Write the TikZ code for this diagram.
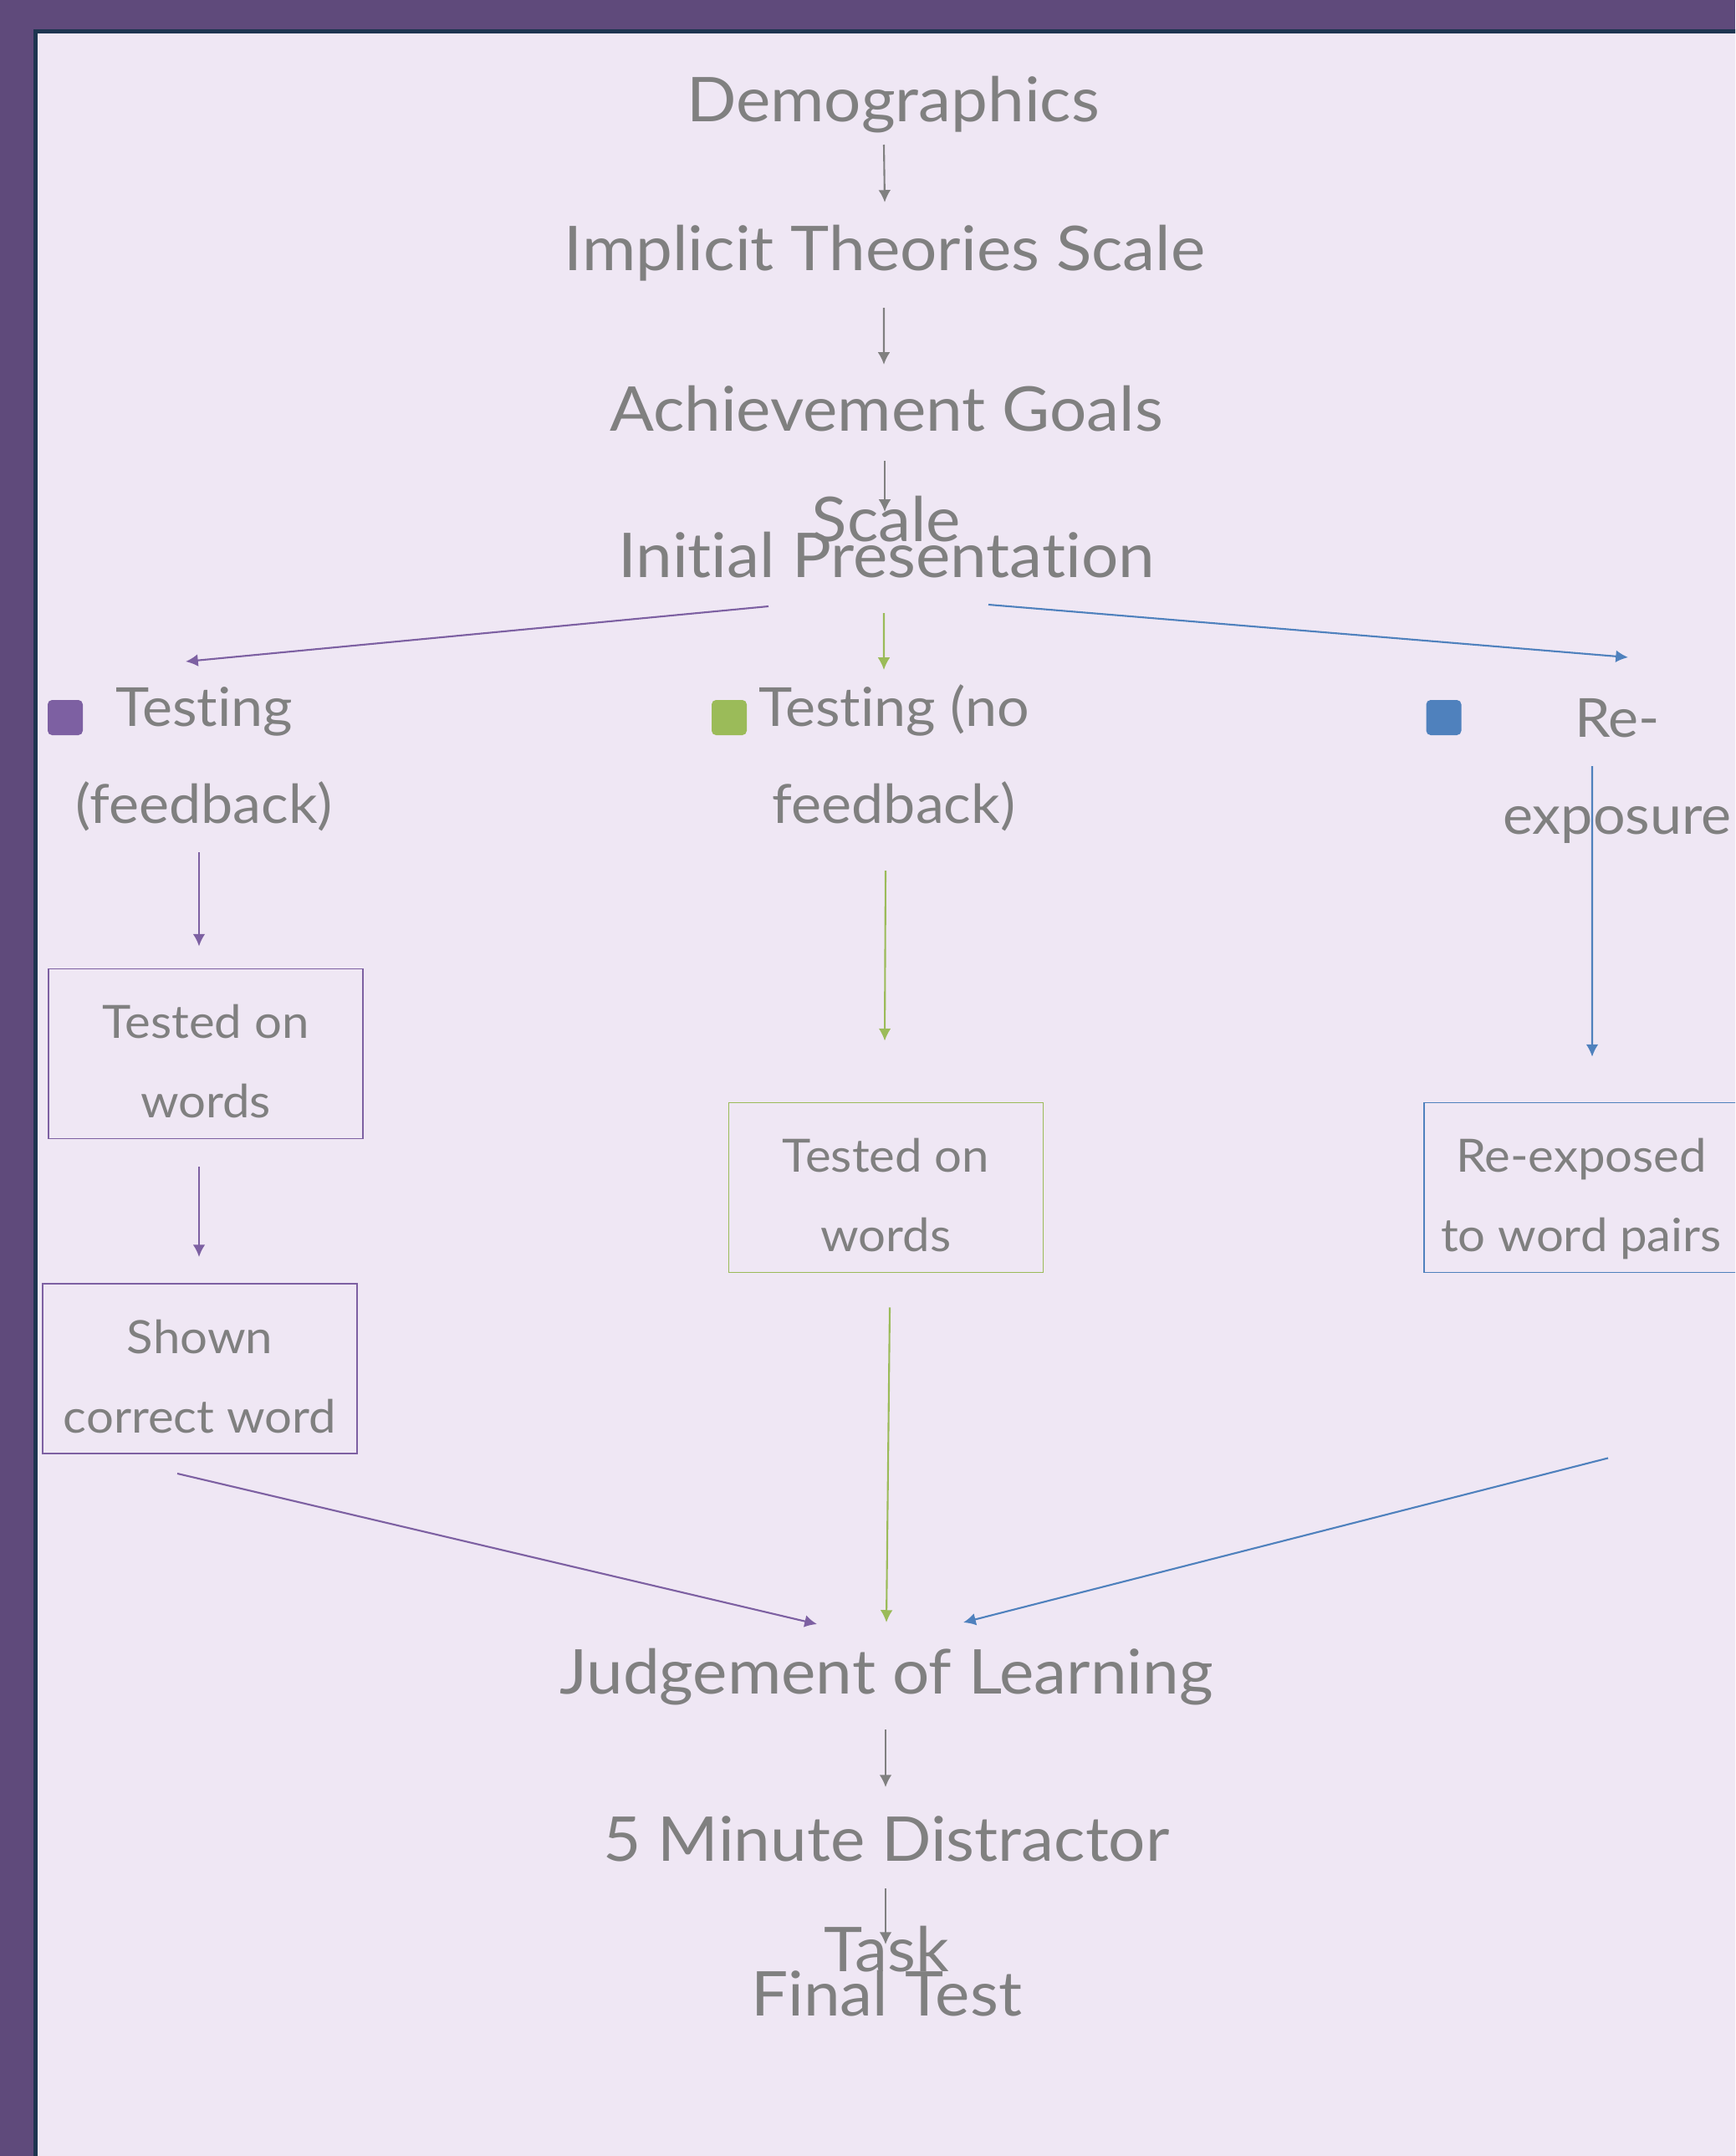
\documentclass[tikz,border=0pt]{standalone}
\usepackage{fontspec}
\setmainfont{Lato}[FakeStretch=1.06, Ligatures={NoCommon}]
\usetikzlibrary{arrows.meta,positioning}

\definecolor{framepurple}{HTML}{5F4A7B}
\definecolor{framenavy}{HTML}{1E3550}
\definecolor{paper}{HTML}{EFE7F4}
\definecolor{textgray}{HTML}{808080}
\definecolor{fbpurple}{HTML}{7D60A2}
\definecolor{nfbgreen}{HTML}{9BBB59}
\definecolor{reblue}{HTML}{4F81BD}

\tikzset{
  stage/.style={text=textgray, inner sep=0pt, align=center, anchor=base,
    font=\fontsize{21}{37.3}\selectfont},
  branch/.style={text=textgray, inner sep=0pt, align=center, anchor=base,
    font=\fontsize{18.3}{33}\selectfont},
  stepbox/.style={draw=#1, line width=0.55pt, minimum width=3.76cm, minimum height=2.03cm,
    text height=1.53cm, text depth=0cm,
    text=textgray, align=center, font=\fontsize{15.6}{27}\selectfont},
  marker/.style={fill=#1, rounded corners=1.5pt, minimum size=0.42cm, inner sep=0pt},
  flow/.style={-{Latex[length=4.2pt,width=4.2pt]}, line width=0.6pt, draw=#1},
  flow/.default=textgray
}

\begin{document}
\begin{tikzpicture}

    % Page and frame
    \useasboundingbox (0,0) rectangle (20.75,-25.78);
    \clip (0,0) rectangle (20.75,-25.78);
    \fill[framepurple] (0,0) rectangle (20.75,-25.78);
    \filldraw[fill=paper, draw=framenavy, line width=0.05cm] (0.425,-0.375) rectangle (21.2,-26.2);

    % Main sequence (base = last line)
    \node[stage] (demo) at (10.68,-1.46) {Demographics};
    \node[stage] (implicit) at (10.58,-3.23) {Implicit Theories Scale};
    \node[stage] (goals) at (10.60,-6.47) {Achievement Goals\\Scale};
    \node[stage] (initial) at (10.60,-6.90) {Initial Presentation};

    % Conditions
    \node[marker=fbpurple] (mfb) at (0.78,-8.58) {};
    \node[marker=nfbgreen] (mnofb) at (8.72,-8.58) {};
    \node[marker=reblue] (mre) at (17.265,-8.58) {};
    \node[branch] (testfb) at (2.44,-9.84) {Testing\\(feedback)};
    \node[branch] (testnofb) at (10.69,-9.84) {Testing (no\\feedback)};
    \node[branch] (reexp) at (19.34,-9.97) {Re-\\exposure};

    % Steps per condition
    \node[stepbox=fbpurple] (pbox1) at (2.46,-12.60) {Tested on\\words};
    \node[stepbox=fbpurple] (pbox2) at (2.39,-16.365) {Shown\\correct word};
    \node[stepbox=nfbgreen] (gbox) at (10.595,-14.20) {Tested on\\words};
    \node[stepbox=reblue] (bbox) at (18.91,-14.20) {Re-exposed\\to word pairs};

    % After the conditions
    \node[stage] (judge) at (10.60,-20.25) {Judgement of Learning};
    \node[stage] (distract) at (10.60,-23.57) {5 Minute Distractor\\Task};
    \node[stage] (final) at (10.60,-24.10) {Final Test};

    % Arrows
    \draw[flow] ([xshift=-0.11cm,yshift=-0.27cm]demo.base) -- ([yshift=0.81cm]implicit.base);
    \draw[flow] ([xshift=-0.01cm,yshift=-0.45cm]implicit.base) -- ([xshift=-0.03cm,yshift=2.11cm]goals.base);
    \draw[flow] ([xshift=-0.02cm,yshift=0.96cm]goals.base) -- ([xshift=-0.02cm,yshift=0.78cm]initial.base);

    \draw[flow=fbpurple] ([xshift=-1.41cm,yshift=-0.35cm]initial.base) -- ([xshift=-0.22cm,yshift=1.93cm]testfb.base);
    \draw[flow=nfbgreen] ([xshift=-0.03cm,yshift=-0.43cm]initial.base) -- ([xshift=-0.12cm,yshift=1.83cm]testnofb.base);
    \draw[flow=reblue] ([xshift=1.22cm,yshift=-0.33cm]initial.base) -- ([xshift=0.13cm,yshift=2.11cm]reexp.base);

    \draw[flow=fbpurple] ([xshift=-0.06cm,yshift=-0.35cm]testfb.base) -- ([xshift=-0.08cm,yshift=0.26cm]pbox1.north);
    \draw[flow=fbpurple] ([xshift=-0.08cm,yshift=-0.33cm]pbox1.south) -- ([xshift=-0.01cm,yshift=0.31cm]pbox2.north);
    \draw[flow=fbpurple] ([xshift=-0.27cm,yshift=-0.23cm]pbox2.south) -- ([xshift=-0.83cm,yshift=0.83cm]judge.base);

    \draw[flow=nfbgreen] ([xshift=-0.10cm,yshift=-0.57cm]testnofb.base) -- ([xshift=-0.015cm,yshift=0.73cm]gbox.north);
    \draw[flow=nfbgreen] ([xshift=0.045cm,yshift=-0.41cm]gbox.south) -- ([yshift=0.85cm]judge.base);

    \draw[flow=reblue] ([xshift=-0.30cm,yshift=0.81cm]reexp.base) -- ([xshift=0.13cm,yshift=0.54cm]bbox.north);
    \draw[flow=reblue] ([xshift=0.32cm,yshift=-2.21cm]bbox.south) -- ([xshift=0.92cm,yshift=0.85cm]judge.base);

    \draw[flow] ([xshift=-0.01cm,yshift=-0.43cm]judge.base) -- ([xshift=-0.01cm,yshift=2.20cm]distract.base);
    \draw[flow] ([xshift=-0.01cm,yshift=0.99cm]distract.base) -- ([xshift=-0.01cm,yshift=0.85cm]final.base);

\end{tikzpicture}
\end{document}
